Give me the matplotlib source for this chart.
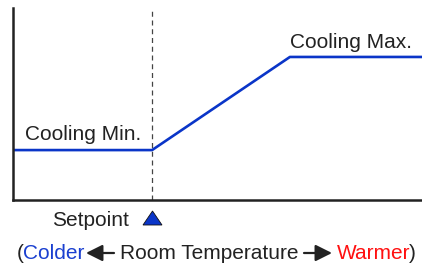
import matplotlib
matplotlib.use("Agg")
import matplotlib.pyplot as plt
from matplotlib.patches import FancyArrowPatch, Polygon

plt.rcParams['font.family'] = ['Liberation Sans', 'DejaVu Sans']

# room temperature (0-100) vs cooling output (0-100)
temp = [0, 34, 67.7, 100]
cooling = [26, 26, 74.5, 74.5]
setpoint = 34

W, H = 422, 269
fig = plt.figure(figsize=(W / 100, H / 100), dpi=100)


def px(x, y):
    return x / W, 1 - y / H


ax = fig.add_axes([13 / W, (H - 200) / H, (W - 13) / W, 192 / H])
ax.set_xlim(0, 100)
ax.set_ylim(0, 100)
ax.plot(temp, cooling, color='#0a35c8', lw=1.9, solid_capstyle='butt')
ax.axvline(setpoint, color='#444444', lw=0.9, ls=(0, (4, 3)))
for s in ['top', 'right']:
    ax.spines[s].set_visible(False)
for s in ['left', 'bottom']:
    ax.spines[s].set_linewidth(1.8)
    ax.spines[s].set_color('#222222')
ax.set_xticks([])
ax.set_yticks([])

fs = 15
dark = '#222222'
fig.text(*px(25, 140), 'Cooling Min.', fontsize=fs, color=dark, va='baseline', ha='left')
fig.text(*px(290, 48), 'Cooling Max.', fontsize=fs, color=dark, va='baseline', ha='left')

# setpoint marker below the axis
fig.text(*px(90, 226.5), 'Setpoint', fontsize=fs, color=dark, ha='center', va='baseline')
fig.patches.append(Polygon([px(143, 225), px(162, 225), px(152.5, 211)], closed=True,
                           transform=fig.transFigure, facecolor='#0a35c8',
                           edgecolor='#111111', lw=0.6))

# bottom caption
y = 259
fig.text(*px(23.5, y), '(', fontsize=fs, color=dark, ha='right', va='baseline')
fig.text(*px(23, y), 'Colder', fontsize=fs, color='#1a3fd0', ha='left', va='baseline')
fig.text(*px(119.5, y), 'Room Temperature', fontsize=fs, color=dark, ha='left', va='baseline')
fig.text(*px(336.5, y), 'Warmer', fontsize=fs, color='#ff1010', ha='left', va='baseline')
fig.text(*px(409, y), ')', fontsize=fs, color=dark, ha='left', va='baseline')
arrow = dict(arrowstyle='-|>,head_length=1.0,head_width=0.5', color=dark, lw=1.6,
             shrinkA=0, shrinkB=0, mutation_scale=10, transform=fig.transFigure)
fig.add_artist(FancyArrowPatch(px(114, 253), px(86, 253), **arrow))
fig.add_artist(FancyArrowPatch(px(304, 253), px(332, 253), **arrow))

fig.savefig('out.png', dpi=100)
